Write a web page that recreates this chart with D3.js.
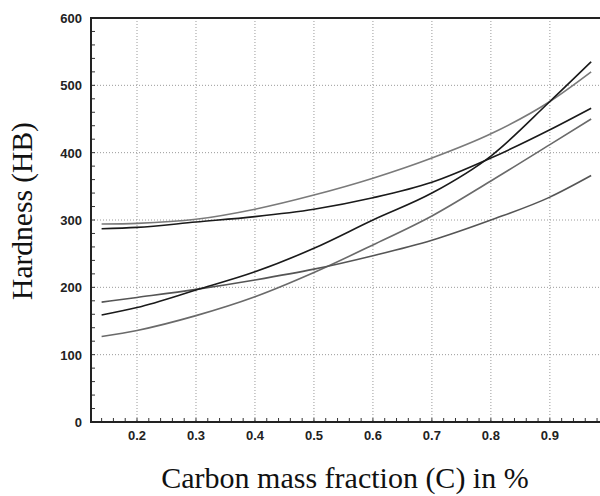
<!DOCTYPE html>
<html>
<head>
<meta charset="utf-8">
<script src="https://cdn.jsdelivr.net/npm/d3@7"></script>
<style>
  body { margin: 0; background: #fff; }
  svg { display: block; }
</style>
</head>
<body>
<svg width="600" height="496"></svg>
<script>
// carbon content (%) at which each curve was read
const carbon = [0.14, 0.2, 0.3, 0.4, 0.5, 0.6, 0.7, 0.8, 0.9, 0.97];

// hardness curves (HB)
const curveA = [294, 295, 301, 316, 337, 362, 392, 428, 476, 520]; // grey, top at left
const curveB = [287, 289, 297, 305, 316, 333, 356, 392, 434, 466]; // black
const curveC = [159, 170, 196, 223, 258, 300, 340, 395, 476, 535]; // black, steep
const curveD = [127, 136, 158, 186, 222, 263, 306, 358, 412, 450]; // grey
const curveE = [178, 185, 197, 211, 227, 247, 270, 300, 334, 366]; // grey, lowest at right

const xTicks = [0.2, 0.3, 0.4, 0.5, 0.6, 0.7, 0.8, 0.9];
const yTicks = [0, 100, 200, 300, 400, 500, 600];

const series = [
    { values: curveA, color: '#7a7a7a' },
    { values: curveD, color: '#6a6a6a' },
    { values: curveE, color: '#555' },
    { values: curveB, color: '#1a1a1a' },
    { values: curveC, color: '#1a1a1a' }
];

const plot = { left: 91, right: 600, top: 18, bottom: 422 };

const svg = d3.select('svg');

const x = d3.scaleLinear().domain([0.122, 0.985]).range([plot.left, plot.right]);
const y = d3.scaleLinear().domain([0, 600]).range([plot.bottom, plot.top]);

// dotted grid
const grid = svg.append('g')
    .attr('stroke', '#9a9a9a')
    .attr('stroke-width', 1)
    .attr('stroke-dasharray', '1,2');

grid.selectAll('.vgrid')
    .data(xTicks)
    .enter().append('line')
    .attr('class', 'vgrid')
    .attr('x1', d => x(d)).attr('x2', d => x(d))
    .attr('y1', plot.top).attr('y2', plot.bottom);

grid.selectAll('.hgrid')
    .data(yTicks.slice(1, -1))
    .enter().append('line')
    .attr('class', 'hgrid')
    .attr('x1', plot.left).attr('x2', plot.right)
    .attr('y1', d => y(d)).attr('y2', d => y(d));

// curves
const line = d3.line()
    .x((d, i) => x(carbon[i]))
    .y(d => y(d))
    .curve(d3.curveMonotoneX);

svg.append('g')
    .selectAll('path')
    .data(series)
    .enter().append('path')
    .attr('d', d => line(d.values))
    .attr('fill', 'none')
    .attr('stroke', d => d.color)
    .attr('stroke-width', 1.6);

// minor ticks, pointing inward
const xMinor = d3.range(0.14, 0.99, 0.02);
const yMinor = d3.range(20, 600, 20);

const ticks = svg.append('g').attr('stroke', '#333').attr('stroke-width', 1);
ticks.selectAll('.xt')
    .data(xMinor)
    .enter().append('line')
    .attr('x1', d => x(d)).attr('x2', d => x(d))
    .attr('y1', plot.bottom).attr('y2', plot.bottom - 4);
ticks.selectAll('.yt')
    .data(yMinor)
    .enter().append('line')
    .attr('x1', plot.left).attr('x2', plot.left + 4)
    .attr('y1', d => y(d)).attr('y2', d => y(d));

// frame: left, bottom, top
svg.append('path')
    .attr('d', `M${plot.right},${plot.top}H${plot.left}V${plot.bottom}H${plot.right}`)
    .attr('fill', 'none')
    .attr('stroke', '#222')
    .attr('stroke-width', 2);

// tick labels
svg.append('g')
    .attr('font-family', 'Liberation Sans, Arial, sans-serif')
    .attr('font-size', 13)
    .attr('font-weight', 'bold')
    .attr('fill', '#222')
    .attr('text-anchor', 'end')
    .selectAll('text')
    .data(yTicks)
    .enter().append('text')
    .attr('x', plot.left - 9)
    .attr('y', d => y(d) + 5)
    .text(d => d);

svg.append('g')
    .attr('font-family', 'Liberation Sans, Arial, sans-serif')
    .attr('font-size', 13)
    .attr('font-weight', 'bold')
    .attr('fill', '#222')
    .attr('text-anchor', 'middle')
    .selectAll('text')
    .data(xTicks)
    .enter().append('text')
    .attr('x', d => x(d))
    .attr('y', 440)
    .text(d => d3.format('.1f')(d));

// axis titles
svg.append('text')
    .attr('x', 345)
    .attr('y', 488)
    .attr('text-anchor', 'middle')
    .attr('font-family', 'Liberation Serif, Times New Roman, serif')
    .attr('font-size', 30)
    .attr('fill', '#111')
    .text('Carbon mass fraction (C) in %');

svg.append('text')
    .attr('transform', 'translate(32,211) rotate(-90)')
    .attr('text-anchor', 'middle')
    .attr('font-family', 'Liberation Serif, Times New Roman, serif')
    .attr('font-size', 29.5)
    .attr('fill', '#111')
    .text('Hardness (HB)');
</script>
</body>
</html>
